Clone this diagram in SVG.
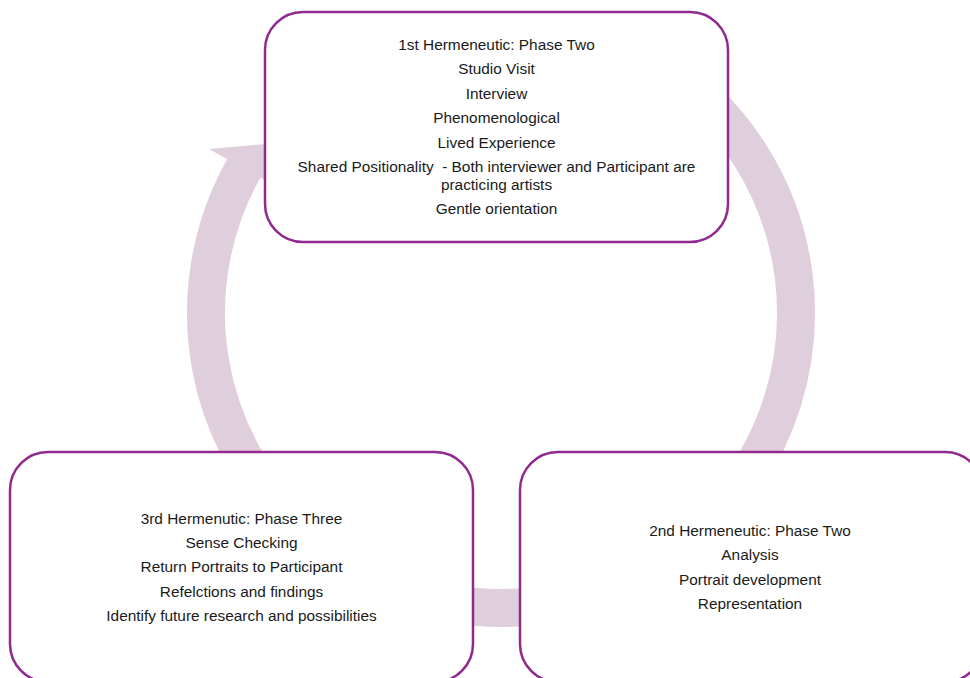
<svg xmlns="http://www.w3.org/2000/svg" width="970" height="678" viewBox="0 0 970 678">
<style>
.ring{fill:none;stroke:#dfcedb;stroke-width:38}
.head{fill:#dfcedb}
.box{fill:#ffffff;stroke:#902a8e;stroke-width:2.5}
.t{font-family:"Liberation Sans",Arial,sans-serif;font-size:15.4px;fill:#1a1a1a;text-anchor:middle}
</style>
<rect width="970" height="678" fill="#ffffff"/>
<g id="connectors">
<path class="ring" d="M670.2,71.3 A295,295 0 0 1 727.0,502.6"/>
<path class="ring" d="M552.2,603.5 A295,295 0 0 1 449.8,603.5"/>
<path class="ring" d="M311.4,539.0 A295,295 0 0 1 248.1,161.1"/>
<polygon class="head" points="209,149 300,141 279,188"/>
</g>
<g id="node-top">
<rect class="box" x="265" y="12" width="463" height="230" rx="38"/>
<text class="t" x="496.5" y="50">1st Hermeneutic: Phase Two</text>
<text class="t" x="496.5" y="74">Studio Visit</text>
<text class="t" x="496.5" y="99">Interview</text>
<text class="t" x="496.5" y="123">Phenomenological</text>
<text class="t" x="496.5" y="148">Lived Experience</text>
<text class="t" x="496.5" y="172" xml:space="preserve">Shared Positionality  - Both interviewer and Participant are</text>
<text class="t" x="496.5" y="190">practicing artists</text>
<text class="t" x="496.5" y="214">Gentle orientation</text>
</g>
<g id="node-bottom-right">
<rect class="box" x="520" y="452" width="463" height="230" rx="38"/>
<text class="t" x="750" y="536">2nd Hermeneutic: Phase Two</text>
<text class="t" x="750" y="560">Analysis</text>
<text class="t" x="750" y="585">Portrait development</text>
<text class="t" x="750" y="609">Representation</text>
</g>
<g id="node-bottom-left">
<rect class="box" x="10" y="452" width="463" height="230" rx="38"/>
<text class="t" x="241.5" y="524">3rd Hermenutic: Phase Three</text>
<text class="t" x="241.5" y="548">Sense Checking</text>
<text class="t" x="241.5" y="572">Return Portraits to Participant</text>
<text class="t" x="241.5" y="597">Refelctions and findings</text>
<text class="t" x="241.5" y="621">Identify future research and possibilities</text>
</g>
</svg>
